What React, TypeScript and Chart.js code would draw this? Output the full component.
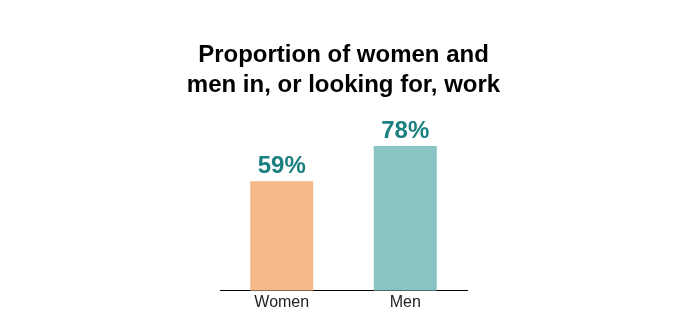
import React, { useEffect, useRef } from "react";
import { Chart, registerables } from "chart.js";

Chart.register(...registerables);

const categories = ["Women", "Men"];
const values = [59, 78];
const barColors = ["#F5B98A", "#8AC3C3"];
const titleLines = ["Proportion of women and", "men in, or looking for, work"];

const FONT = "'Liberation Sans', Arial, sans-serif";

const valueLabels = {
  id: "valueLabels",
  afterDatasetsDraw(chart: any) {
    const ctx = chart.ctx;
    const meta = chart.getDatasetMeta(0);
    ctx.save();
    ctx.font = `bold 24px ${FONT}`;
    ctx.fillStyle = "#1A7F7F";
    ctx.textAlign = "center";
    ctx.textBaseline = "alphabetic";
    meta.data.forEach((el: any, i: number) => {
      ctx.fillText(values[i] + "%", el.x, el.y - 8);
    });
    ctx.restore();
  },
};

const titleDraw = {
  id: "titleDraw",
  afterDraw(chart: any) {
    const ctx = chart.ctx;
    const area = chart.chartArea;
    const cx = (area.left + area.right) / 2;
    ctx.save();
    ctx.font = `bold 24px ${FONT}`;
    ctx.fillStyle = "#000";
    ctx.textAlign = "center";
    ctx.textBaseline = "alphabetic";
    titleLines.forEach((line, i) => {
      ctx.fillText(line, cx, 62 + i * 30);
    });
    ctx.restore();
  },
};

export default function App() {
  const ref = useRef<HTMLCanvasElement>(null);
  useEffect(() => {
    const chart = new Chart(ref.current!, {
      type: "bar",
      data: {
        labels: categories,
        datasets: [
          {
            data: values,
            backgroundColor: barColors,
            categoryPercentage: 1,
            barPercentage: 0.51,
          },
        ],
      },
      options: {
        animation: false,
        responsive: false,
        layout: { padding: { left: 220, right: 208, top: 105, bottom: 8 } },
        plugins: {
          legend: { display: false },
          tooltip: { enabled: false },
          title: { display: false },
        },
        scales: {
          x: {
            grid: { display: false, drawTicks: false },
            border: { display: true, color: "#000", width: 1 },
            ticks: { color: "#222", font: { family: FONT, size: 16 }, padding: 2 },
          },
          y: {
            display: false,
            min: 0,
            max: 100,
          },
        },
      },
      plugins: [valueLabels, titleDraw],
    });
    return () => chart.destroy();
  }, []);
  return (
    <div style={{ position: "fixed", left: 0, top: 0, width: 675, height: 322, background: "#fff" }}>
      <canvas ref={ref} width={675} height={322} />
    </div>
  );
}
